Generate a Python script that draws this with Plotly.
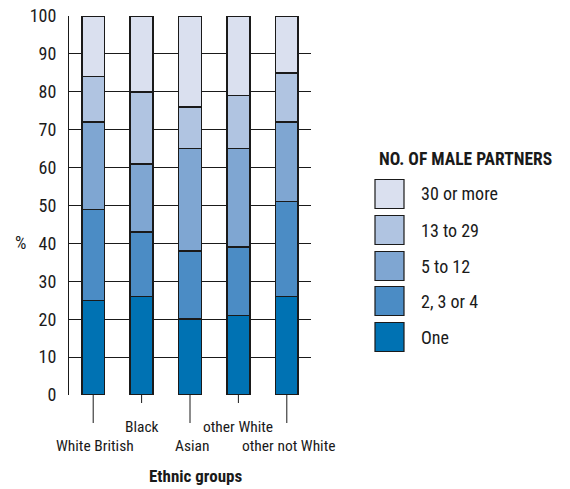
import plotly.graph_objects as go

categories = ["White British", "Black", "Asian", "other White", "other not White"]
series_names = ["One", "2, 3 or 4", "5 to 12", "13 to 29", "30 or more"]
one = [25, 26, 20, 21, 26]
two_to_four = [24, 17, 18, 18, 25]
five_to_twelve = [23, 18, 27, 26, 21]
thirteen_to_29 = [12, 19, 11, 14, 13]
thirty_plus = [16, 20, 24, 21, 15]
series_values = [one, two_to_four, five_to_twelve, thirteen_to_29, thirty_plus]
colors = ["#0072b3", "#4b8cc5", "#7fa6d2", "#b0c4e1", "#dae0ef"]
y_ticks = list(range(0, 101, 10))
label_row = [1, 0, 1, 0, 1]  # 0 = upper row, 1 = lower row

FONT = "Liberation Sans Narrow, Roboto Condensed, Arial Narrow, Roboto, sans-serif"

W, H = 570, 489
L, R, T, B = 69, 311, 16, 395  # in page pixels

def px(x):
    return (x - L) / (R - L)

def py(y):
    return (B - y) / (B - T)

fig = go.Figure()
for name, vals, col in zip(series_names, series_values, colors):
    fig.add_trace(go.Bar(
        x=categories, y=vals, name=name,
        marker=dict(color=col, line=dict(color="#1a1a1a", width=1.5)),
        width=0.47, showlegend=False,
    ))

shapes = []
annotations = []
# staggered x tick marks and labels
for cat, row in zip(categories, label_row):
    end = 423 if row == 1 else 403
    shapes.append(dict(type="line", xref="x", yref="paper", x0=cat, x1=cat,
                       y0=0, y1=py(end), line=dict(color="#1a1a1a", width=1)))
    annotations.append(dict(xref="x", yref="paper", x=cat, y=py(446 if row == 1 else 427),
                            text=cat, showarrow=False, xanchor="center", yanchor="middle",
                            xshift=2 if row == 1 else 0,
                            font=dict(family=FONT, size=15.5, color="#1a1a1a")))

# manual legend (top-down: reversed order)
annotations.append(dict(xref="paper", yref="paper", x=px(377), y=py(159), text="<b>NO. OF MALE PARTNERS</b>",
                        showarrow=False, xanchor="left", yanchor="middle",
                        font=dict(family=FONT, size=17.5, color="#1a1a1a")))
centers = [194, 230, 266, 301, 337]
for i, (name, col) in enumerate(zip(series_names[::-1], colors[::-1])):
    cy = centers[i]
    shapes.append(dict(type="rect", xref="paper", yref="paper",
                       x0=px(375), x1=px(404), y0=py(cy - 14.5), y1=py(cy + 14.5),
                       fillcolor=col, line=dict(color="#1a1a1a", width=1.2)))
    annotations.append(dict(xref="paper", yref="paper", x=px(419), y=py(cy), text=name,
                            showarrow=False, xanchor="left", yanchor="middle",
                            font=dict(family=FONT, size=18, color="#1a1a1a")))

annotations.append(dict(xref="paper", yref="paper", x=px(20), y=py(242), text="%",
                        showarrow=False, xanchor="center", yanchor="middle",
                        font=dict(family=FONT, size=18, color="#1a1a1a")))
annotations.append(dict(xref="paper", yref="paper", x=px(195), y=py(476), text="<b>Ethnic groups</b>",
                        showarrow=False, xanchor="center", yanchor="middle",
                        font=dict(family=FONT, size=17, color="#1a1a1a")))

fig.update_layout(
    barmode="stack",
    width=W, height=H,
    margin=dict(l=L, r=W - R, t=T, b=H - B, pad=0, autoexpand=False),
    plot_bgcolor="white", paper_bgcolor="white",
    bargap=0.53,
    shapes=shapes, annotations=annotations,
    font=dict(family=FONT, size=17, color="#1a1a1a"),
)
fig.update_xaxes(showticklabels=False, ticks="", showgrid=False, showline=False, zeroline=False,
                 range=[-0.5, 4.5], automargin=False)
fig.update_yaxes(range=[0, 100], tickvals=y_ticks, showgrid=True, gridcolor="#1a1a1a", gridwidth=1,
                 showline=True, linecolor="#1a1a1a", linewidth=1, zeroline=False, ticks="",
                 automargin=False, ticklabeloverflow="allow",
                 ticklabelstandoff=8, tickfont=dict(family=FONT, size=18, color="#1a1a1a"))

fig.write_html("out.html", config={"displayModeBar": False},
               post_script="document.body.style.margin='0px';")
